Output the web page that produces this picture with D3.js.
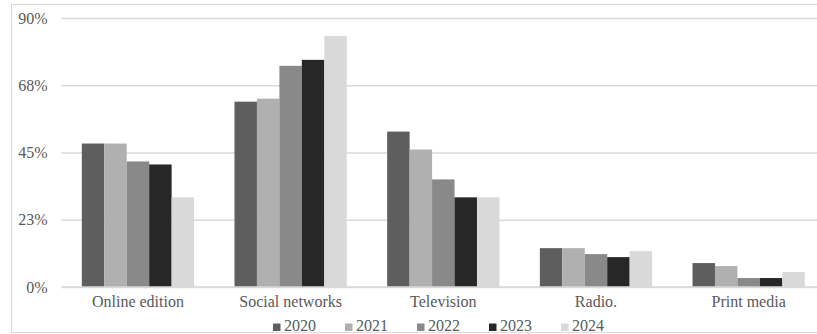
<!DOCTYPE html>
<html>
<head>
<meta charset="utf-8">
<script src="https://cdn.jsdelivr.net/npm/d3@7"></script>
<style>
  html, body { margin: 0; padding: 0; background: #fff; }
  svg { display: block; }
  text { font-family: "Liberation Serif", "Times New Roman", serif; fill: #595959; }
</style>
</head>
<body>
<svg id="chart" width="817" height="334"></svg>
<script>
// Media channels and survey years
const categories = ["Online edition", "Social networks", "Television", "Radio.", "Print media"];
const years = ["2020", "2021", "2022", "2023", "2024"];

// Share of respondents (%) per channel, one array per year
const values2020 = [48, 62, 52, 13, 8];
const values2021 = [48, 63, 46, 13, 7];
const values2022 = [42, 74, 36, 11, 3];
const values2023 = [41, 76, 30, 10, 3];
const values2024 = [30, 84, 30, 12, 5];

// Axis ticks (labels shown rounded to whole percent)
const yTicks = [0, 22.5, 45, 67.5, 90];

const seriesValues = [values2020, values2021, values2022, values2023, values2024];
const colors = ["#5e5e5e", "#b0b0b0", "#898989", "#272727", "#d9d9d9"];
const serif = "'Liberation Serif', 'Times New Roman', serif";

const svg = d3.select("#chart");

// Outer frame
svg.append("rect")
  .attr("x", 11.5).attr("y", 4.5)
  .attr("width", 820).attr("height", 328)
  .attr("fill", "none").attr("stroke", "#d9d9d9");

const plot = { left: 61.6, right: 825, top: 18, bottom: 287 };

const y = d3.scaleLinear().domain([0, 90]).range([plot.bottom, plot.top]);
const x0 = d3.scaleBand().domain(categories).range([plot.left, plot.right])
  .paddingInner(0.2647).paddingOuter(0.1324);
const x1 = d3.scaleBand().domain(years).range([0, x0.bandwidth()]).padding(0);

// Gridlines and y labels
const yAxis = d3.axisLeft(y).tickValues(yTicks)
  .tickSize(-(plot.right - plot.left))
  .tickPadding(14)
  .tickFormat(d => Math.round(d) + "%");

const gy = svg.append("g")
  .attr("transform", `translate(${plot.left},0)`)
  .call(yAxis)
  .attr("font-family", serif);
gy.select(".domain").remove();
gy.selectAll(".tick line").attr("stroke", "#d9d9d9").attr("stroke-width", 1.3);
gy.selectAll(".tick text").attr("font-size", 16).attr("fill", "#595959");

// Bars
const groups = svg.append("g").selectAll("g")
  .data(categories)
  .join("g")
  .attr("transform", d => `translate(${x0(d)},0)`);

groups.selectAll("rect")
  .data((c, ci) => years.map((yr, si) => ({ yr, si, v: seriesValues[si][ci] })))
  .join("rect")
  .attr("x", d => x1(d.yr))
  .attr("y", d => y(d.v))
  .attr("width", x1.bandwidth())
  .attr("height", d => y(0) - y(d.v))
  .attr("fill", d => colors[d.si]);

// Baseline
svg.append("line")
  .attr("x1", plot.left).attr("x2", plot.right)
  .attr("y1", y(0)).attr("y2", y(0))
  .attr("stroke", "#d9d9d9").attr("stroke-width", 1.3);

// Category labels
const xAxis = d3.axisBottom(x0).tickSize(0).tickPadding(9);
const gx = svg.append("g")
  .attr("transform", `translate(0,${plot.bottom})`)
  .call(xAxis)
  .attr("font-family", serif);
gx.select(".domain").remove();
gx.selectAll(".tick text").attr("font-size", 16).attr("fill", "#595959");

// Legend
const legend = svg.append("g").attr("transform", "translate(273,0)");
const item = legend.selectAll("g").data(years).join("g")
  .attr("transform", (d, i) => `translate(${i * 72},0)`);
item.append("rect")
  .attr("x", 0).attr("y", 323.5)
  .attr("width", 7.5).attr("height", 7.5)
  .attr("fill", (d, i) => colors[i]);
item.append("text")
  .attr("x", 11).attr("y", 331)
  .attr("font-size", 16)
  .text(d => d);
</script>
</body>
</html>
